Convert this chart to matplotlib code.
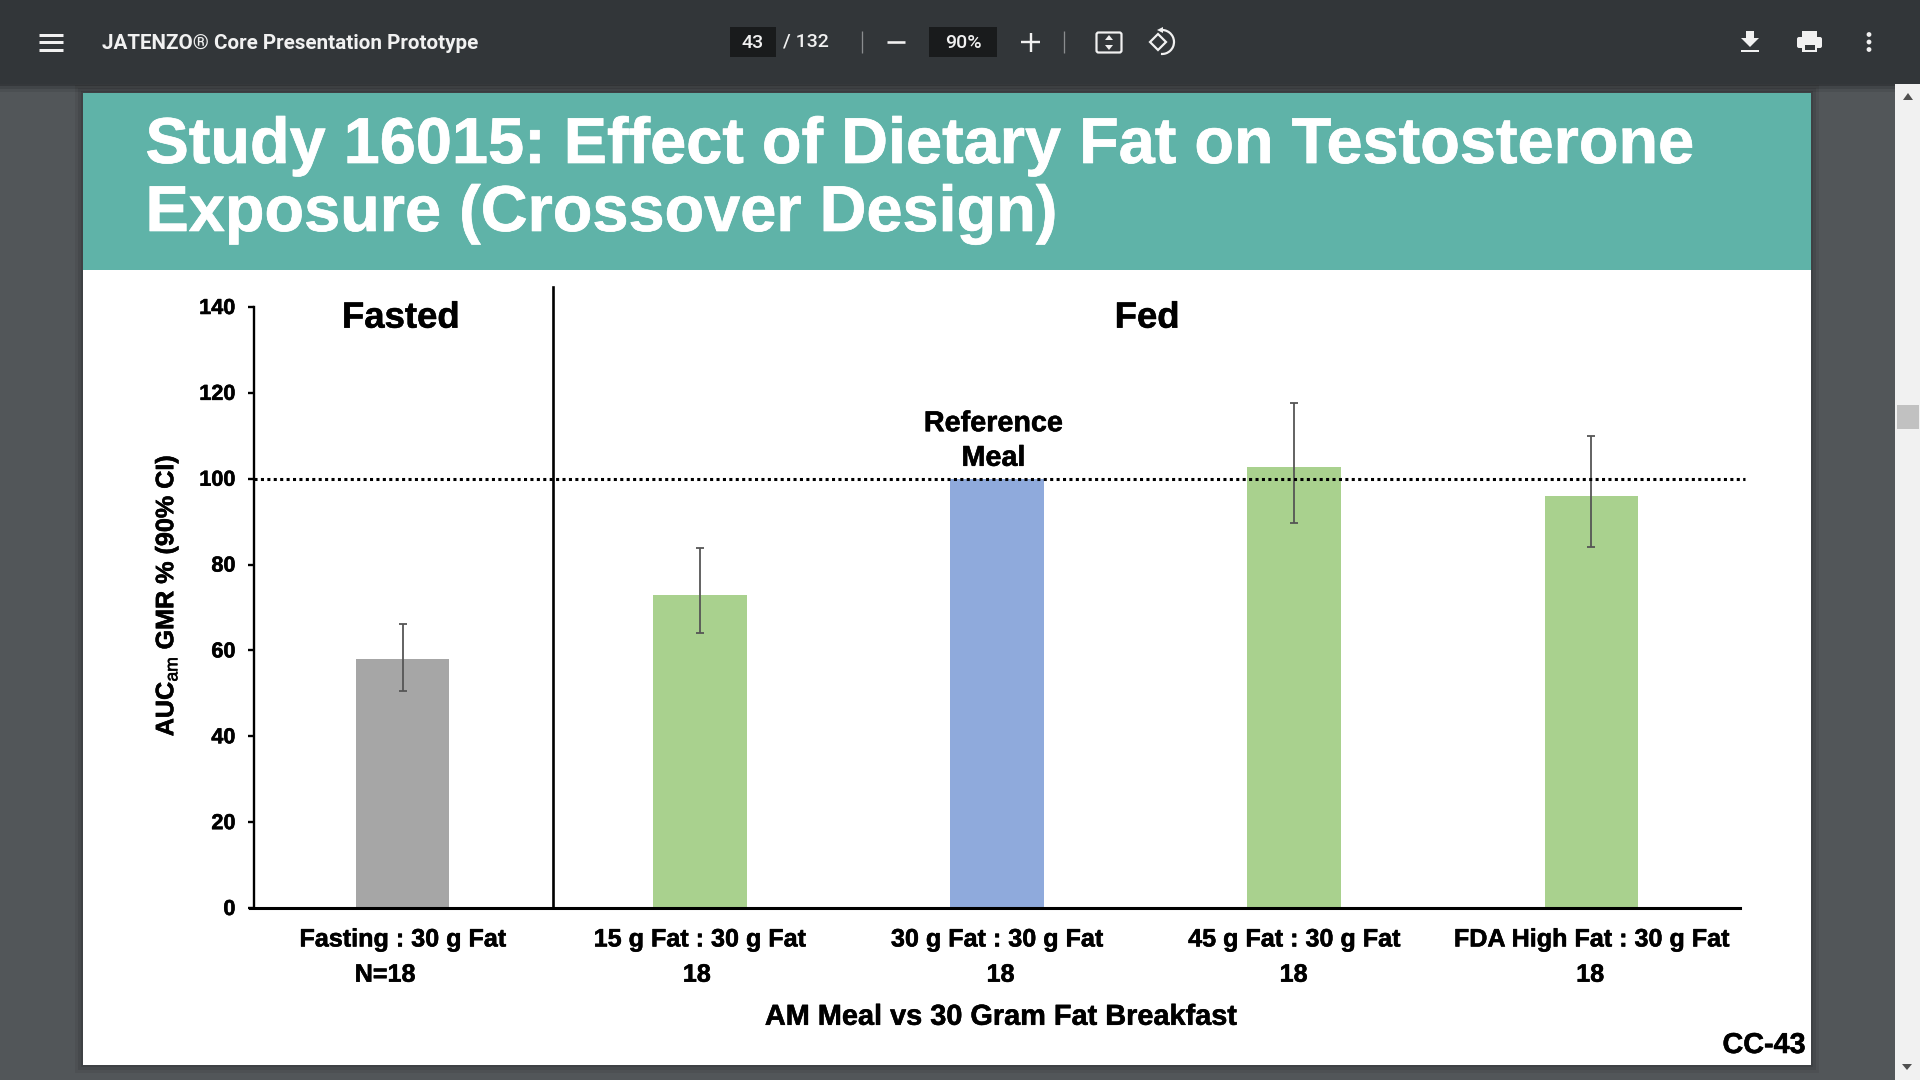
import matplotlib
matplotlib.use("Agg")
import matplotlib.pyplot as plt
import matplotlib.patheffects as pe
from matplotlib.patches import Rectangle, Polygon, Arc, FancyBboxPatch, Circle
from matplotlib.transforms import ScaledTranslation

categories = ["Fasting : 30 g Fat", "15 g Fat : 30 g Fat", "30 g Fat : 30 g Fat",
              "45 g Fat : 30 g Fat", "FDA High Fat : 30 g Fat"]
n_labels = ["N=18", "18", "18", "18", "18"]
gmr = [58, 73, 100, 102.8, 96]
ci_low = [50.5, 64, 100, 89.7, 84]
ci_high = [66.2, 83.8, 100, 117.6, 110]
bar_colors = ["#A6A6A6", "#A9D18E", "#8FAADC", "#A9D18E", "#A9D18E"]
y_ticks = [0, 20, 40, 60, 80, 100, 120, 140]

plt.rcParams["font.family"] = ["Liberation Sans", "DejaVu Sans"]
plt.rcParams["mathtext.fontset"] = "custom"
plt.rcParams["mathtext.rm"] = "Liberation Sans"
plt.rcParams["mathtext.bf"] = "Liberation Sans:bold"

W, H = 1920, 1080
PX = 0.72
fig = plt.figure(figsize=(W / 100, H / 100), dpi=100, facecolor="#525659")

# ---------- viewer chrome, in pixel coordinates ----------
bg = fig.add_axes([0, 0, 1, 1], zorder=0)
bg.set_xlim(0, W)
bg.set_ylim(H, 0)
bg.axis("off")

def rect(x0, y0, x1, y1, color, z=1, alpha=None):
    bg.add_patch(Rectangle((x0, y0), x1 - x0, y1 - y0, facecolor=color, edgecolor="none", zorder=z, alpha=alpha))

# slide shadow
for i, a in zip([8, 5, 2], [0.06, 0.08, 0.10]):
    rect(83 - i, 93 - i, 1811 + i, 1065 + i, "#000000", 1, a)
rect(83, 93, 1811, 1065, "#FFFFFF", 2)
rect(83, 93, 1811, 270, "#5FB3A8", 3)
# scrollbar
rect(1895, 84, 1920, 1080, "#F1F1F1", 4)
rect(1897, 405, 1919, 429, "#C1C1C1", 5)
bg.add_patch(Polygon([[1903, 100], [1913, 100], [1908, 93]], facecolor="#505050", zorder=5))
bg.add_patch(Polygon([[1902, 1064], [1912, 1064], [1907, 1070]], facecolor="#505050", zorder=5))
# toolbar
for i, a in zip([8, 5, 2], [0.08, 0.12, 0.18]):
    rect(0, 84, 1895, 84 + i, "#000000", 6, a)
rect(0, 0, 1920, 84, "#323639", 7)

def line(xs, ys, lw=2.4, color="#F1F1F1", alpha=1.0):
    bg.plot(xs, ys, color=color, lw=lw * PX, zorder=9, solid_capstyle="butt", alpha=alpha)

for yy in (34.5, 42, 49.5):
    line([39, 63], [yy, yy], 3)
chrome_font = dict(family=["Roboto", "DejaVu Sans"], color="#F1F1F1", zorder=9, va="center")
bg.text(102, 43.5, "JATENZO\u00ae Core Presentation Prototype", fontsize=14.9, weight="bold", **chrome_font)
rect(730, 27, 776, 57, "#191B1C", 8)
bg.text(753, 42.5, "43", fontsize=14, weight="medium", ha="center", **chrome_font)
bg.text(783, 41.5, "/ 132", fontsize=14, weight="medium", **chrome_font)
line([862, 862], [31, 53], 1.3, "#8A8D8F")
line([887, 905], [42, 42], 2.6)
rect(929, 27, 997, 57, "#191B1C", 8)
bg.text(963, 42.5, "90%", fontsize=14, weight="medium", ha="center", **chrome_font)
line([1021, 1040], [42, 42], 2.4)
line([1030.5, 1030.5], [33, 52], 2.4)
line([1063.5, 1063.5], [31, 53], 1.3, "#8A8D8F")
# fit icon
bg.add_patch(FancyBboxPatch((1096.5, 32.5), 25, 20, boxstyle="round,pad=0,rounding_size=2",
                            facecolor="none", edgecolor="#F1F1F1", lw=2.2 * PX, zorder=9))
bg.add_patch(Polygon([[1105, 40], [1113, 40], [1109, 35]], facecolor="#F1F1F1", zorder=9))
bg.add_patch(Polygon([[1105, 45], [1113, 45], [1109, 50]], facecolor="#F1F1F1", zorder=9))
# rotate icon
bg.add_patch(Polygon([[1150, 42], [1158, 34], [1166, 42], [1158, 50]], facecolor="none",
                     edgecolor="#F1F1F1", lw=2.2 * PX, zorder=9))
bg.add_patch(Arc((1162, 42), 24, 24, theta1=-100, theta2=95, edgecolor="#F1F1F1", lw=2.2 * PX, zorder=9))
bg.add_patch(Polygon([[1157, 30], [1163, 27], [1163, 33]], facecolor="#F1F1F1", zorder=9))
# download icon
bg.add_patch(Polygon([[1746, 31], [1754, 31], [1754, 38], [1759, 38], [1750, 47], [1741, 38], [1746, 38]],
                     facecolor="#F1F1F1", zorder=9))
rect(1741, 49.5, 1759, 52, "#F1F1F1", 9)
# print icon
rect(1802, 31, 1817, 37, "#F1F1F1", 9)
bg.add_patch(FancyBboxPatch((1797, 37), 25, 11, boxstyle="round,pad=0,rounding_size=2",
                            facecolor="#F1F1F1", edgecolor="none", zorder=9))
rect(1802, 43, 1817, 52, "#F1F1F1", 9)
rect(1804.5, 45, 1814.5, 50, "#323639", 10)
# more icon
for yy in (34.5, 42, 49.5):
    bg.add_patch(Circle((1869, yy), 2.4, facecolor="#F1F1F1", zorder=9))

# slide title and page number
title_font = dict(color="white", weight="bold", fontsize=46.7, va="baseline", zorder=9,
                  path_effects=[pe.withStroke(linewidth=0.5, foreground="white")])
bg.text(145.5, 163, "Study 16015: Effect of Dietary Fat on Testosterone", **title_font)
bg.text(145.5, 231, "Exposure (Crossover Design)", **title_font)
cc = bg.text(1805, 1053, "CC-43", color="black", weight="bold", fontsize=20.7, ha="right", va="baseline", zorder=9)

# ---------- chart ----------
ax = fig.add_axes([254 / W, 1 - 908 / H, (1740 - 254) / W, (908 - 307) / H], zorder=2)
ax.patch.set_alpha(0)
positions = range(len(categories))
err_low = [g - l for g, l in zip(gmr, ci_low)]
err_high = [h - g for g, h in zip(gmr, ci_high)]
ax.bar(positions, gmr, width=0.315, color=bar_colors, zorder=2)
for i in positions:
    if ci_high[i] != ci_low[i]:
        ax.errorbar(i, gmr[i], yerr=[[err_low[i]], [err_high[i]]], color="#555555",
                    elinewidth=1.8 * PX, capsize=2.9, capthick=1.8 * PX, zorder=3)
ax.set_xlim(-0.5, 4.5)
ax.set_ylim(0, 140)
ax.set_yticks(y_ticks)
ax.set_xticks(list(positions))
ax.set_xticklabels(categories, fontsize=18.1, weight="bold")
ax.tick_params(axis="x", length=0, pad=14)
ax.tick_params(axis="y", length=4.5, width=1.7, pad=8.9, labelsize=15.6)
nudge = ScaledTranslation(0, 1 / 100, fig.dpi_scale_trans)
for lab in ax.get_yticklabels():
    lab.set_fontweight("bold")
    lab.set_transform(lab.get_transform() + nudge)
for s in ("top", "right"):
    ax.spines[s].set_visible(False)
ax.spines["left"].set_linewidth(1.7)
ax.spines["bottom"].set_linewidth(2.2)
ax.spines["bottom"].set_bounds(-0.514, 4.5)

# reference line at 100 and fasted / fed divider
ax.plot([-0.5, 4.517], [100, 100], color="black", lw=2.2, ls=(0, (1, 1.1)), zorder=4, clip_on=False,
        dash_capstyle="butt")
ax.plot([0.507, 0.507], [0, 144.6], color="black", lw=1.9, zorder=4, clip_on=False)

chart_texts = [
    ax.text(-0.006, 137.4, "Fasted", fontsize=26.3, weight="bold", ha="center", va="center"),
    ax.text(2.505, 137.4, "Fed", fontsize=26.3, weight="bold", ha="center", va="center"),
    ax.text(1.988, 108.9, "Reference\nMeal", fontsize=20.7, weight="bold", ha="center", va="center", linespacing=1.3),
    cc,
]

# second row of category labels
tr = ax.get_xaxis_transform()
for i, (lab, shift) in enumerate(zip(n_labels, [-0.059, -0.01, 0.012, -0.002, -0.004])):
    chart_texts.append(ax.text(i + shift, -0.111, lab, transform=tr, fontsize=18.1, weight="bold", ha="center", va="center"))
chart_texts.append(ax.text(2.012, -0.181, "AM Meal vs 30 Gram Fat Breakfast", transform=tr, fontsize=20.8, weight="bold",
        ha="center", va="center"))
chart_texts.append(ax.text(-0.059, 0.52, r"AUC$_{\mathrm{am}}$ GMR % (90% CI)", transform=ax.transAxes, rotation=90,
        fontsize=18.1, weight="bold", ha="center", va="center"))
chart_texts += ax.get_xticklabels() + ax.get_yticklabels()
for t in chart_texts:
    t.set_path_effects([pe.withStroke(linewidth=0.4, foreground="black")])

fig.savefig("out.png", dpi=100, facecolor=fig.get_facecolor())
